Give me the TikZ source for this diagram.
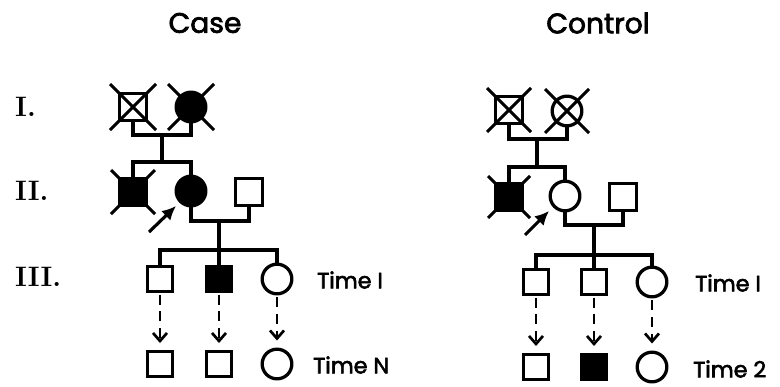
\documentclass[tikz,border=0pt]{standalone}
\usepackage{fontspec}
\newfontfamily\pop{Poppins}[FakeBold=2.5]
\usetikzlibrary{arrows.meta}
\newcommand\deadX[2]{%
  \draw[xline] ([shift={(-#2,-#2)}]#1.center) -- ([shift={(#2,#2)}]#1.center);
  \draw[xline] ([shift={(-#2,#2)}]#1.center) -- ([shift={(#2,-#2)}]#1.center);}
\begin{document}
\begin{tikzpicture}[x=0.3mm,y=-0.3mm,
  sqbig/.style={draw, rectangle, minimum size=8.0mm, inner sep=0pt, outer sep=0pt, line width=2.8pt, fill=white},
  sq/.style={draw, rectangle, minimum size=7.4mm, inner sep=0pt, outer sep=0pt, line width=2.8pt, fill=white},
  circ/.style={draw, circle, minimum size=8.9mm, inner sep=0pt, outer sep=0pt, line width=2.8pt, fill=white},
  aff/.style={fill=black},
  xline/.style={line width=2.6pt},
  link/.style={line width=2.6pt},
  dasharrow/.style={line width=2.3pt, dash pattern=on 3mm off 2mm,
    -{Straight Barb[length=2.4mm,width=4.2mm,line width=2.3pt]}, shorten <=1mm, shorten >=2.6mm},
  proband/.style={line width=2.7pt, -{Latex[length=4.2mm,width=4mm]}},
  title/.style={font=\pop\fontsize{24}{28}\selectfont, inner sep=0pt},
  timelab/.style={font=\pop\fontsize{19}{22}\selectfont, anchor=west, inner sep=0pt},
  gen/.style={font=\bfseries\fontsize{24}{28}\selectfont, anchor=west, inner sep=0pt}
]
\useasboundingbox (0,0) rectangle (780,386);

% titles and generation labels
\node[title] (tcase) at (205,23) {Case};
\node[title] (tctrl) at (598,23) {Control};
\node[gen] (g1) at (15,107) {I.};
\node[gen] (g2) at (15,191) {II.};
\node[gen] (g3) at (15,277) {III.};

% ---------------- Case ----------------
\node[sqbig] (c1m) at (133,107) {};
\node[circ,aff] (c1f) at (191,107) {};
\node[sqbig,aff] (c2m) at (133,192) {};
\node[circ,aff] (c2f) at (191,191) {};
\node[sqbig] (c2h) at (249,192) {};
\node[sq] (c3a) at (160,279) {};
\node[sq,aff] (c3b) at (219,279) {};
\node[circ] (c3c) at (277,279) {};
\node[sq] (c4a) at (160,364) {};
\node[sq] (c4b) at (219,364) {};
\node[circ] (c4c) at (277,364) {};
\coordinate (cm1) at (162,135);
\coordinate (cs1) at (162,162);
\coordinate (cm2) at (219,221);
\coordinate (cs2) at (219,250);
\coordinate (cat) at (149,232);
\coordinate (cah) at (176,206);

\draw[link] (c1m.south) |- (cm1) -| (c1f.south);
\draw[link] (cm1) -- (cs1);
\draw[link] (c2m.north) |- (cs1) -| (c2f.north);
\draw[link] (c2f.south) |- (cm2) -| (c2h.south);
\draw[link] (cm2) -- (cs2);
\draw[link] (c3a.north) |- (cs2) -| (c3c.north);
\draw[link] (cs2) -- (c3b.north);
\deadX{c1m}{23}
\deadX{c1f}{23}
\deadX{c2m}{22}
\draw[proband] (cat) -- (cah);
\draw[dasharrow] (c3a.south) -- (c4a.north);
\draw[dasharrow] (c3b.south) -- (c4b.north);
\draw[dasharrow] (c3c.south) -- (c4c.north);
\node[timelab] (ct1) at (317,280) {Time I};
\node[timelab] (ct2) at (313,365) {Time N};

% ---------------- Control ----------------
\node[sqbig] (k1m) at (509,110) {};
\node[circ] (k1f) at (567,111) {};
\node[sqbig,aff] (k2m) at (509,197) {};
\node[circ] (k2f) at (565,196) {};
\node[sqbig] (k2h) at (623,197) {};
\node[sq] (k3a) at (536,282) {};
\node[sq] (k3b) at (594,282) {};
\node[circ] (k3c) at (652,282) {};
\node[sq] (k4a) at (536,367) {};
\node[sq,aff] (k4b) at (594,367) {};
\node[circ] (k4c) at (652,367) {};
\coordinate (km1) at (537,139);
\coordinate (ks1) at (537,167);
\coordinate (km2) at (594,225);
\coordinate (ks2) at (594,255);
\coordinate (kat) at (525,235);
\coordinate (kah) at (549,211);

\draw[link] (k1m.south) |- (km1) -| (k1f.south);
\draw[link] (km1) -- (ks1);
\draw[link] (k2m.north) |- (ks1) -| (k2f.north);
\draw[link] (k2f.south) |- (km2) -| (k2h.south);
\draw[link] (km2) -- (ks2);
\draw[link] (k3a.north) |- (ks2) -| (k3c.north);
\draw[link] (ks2) -- (k3b.north);
\deadX{k1m}{22}
\deadX{k1f}{22}
\deadX{k2m}{21}
\draw[proband] (kat) -- (kah);
\draw[dasharrow] (k3a.south) -- (k4a.north);
\draw[dasharrow] (k3b.south) -- (k4b.north);
\draw[dasharrow] (k3c.south) -- (k4c.north);
\node[timelab] (kt1) at (695,283) {Time I};
\node[timelab] (kt2) at (693,369) {Time 2};
\end{tikzpicture}
\end{document}
